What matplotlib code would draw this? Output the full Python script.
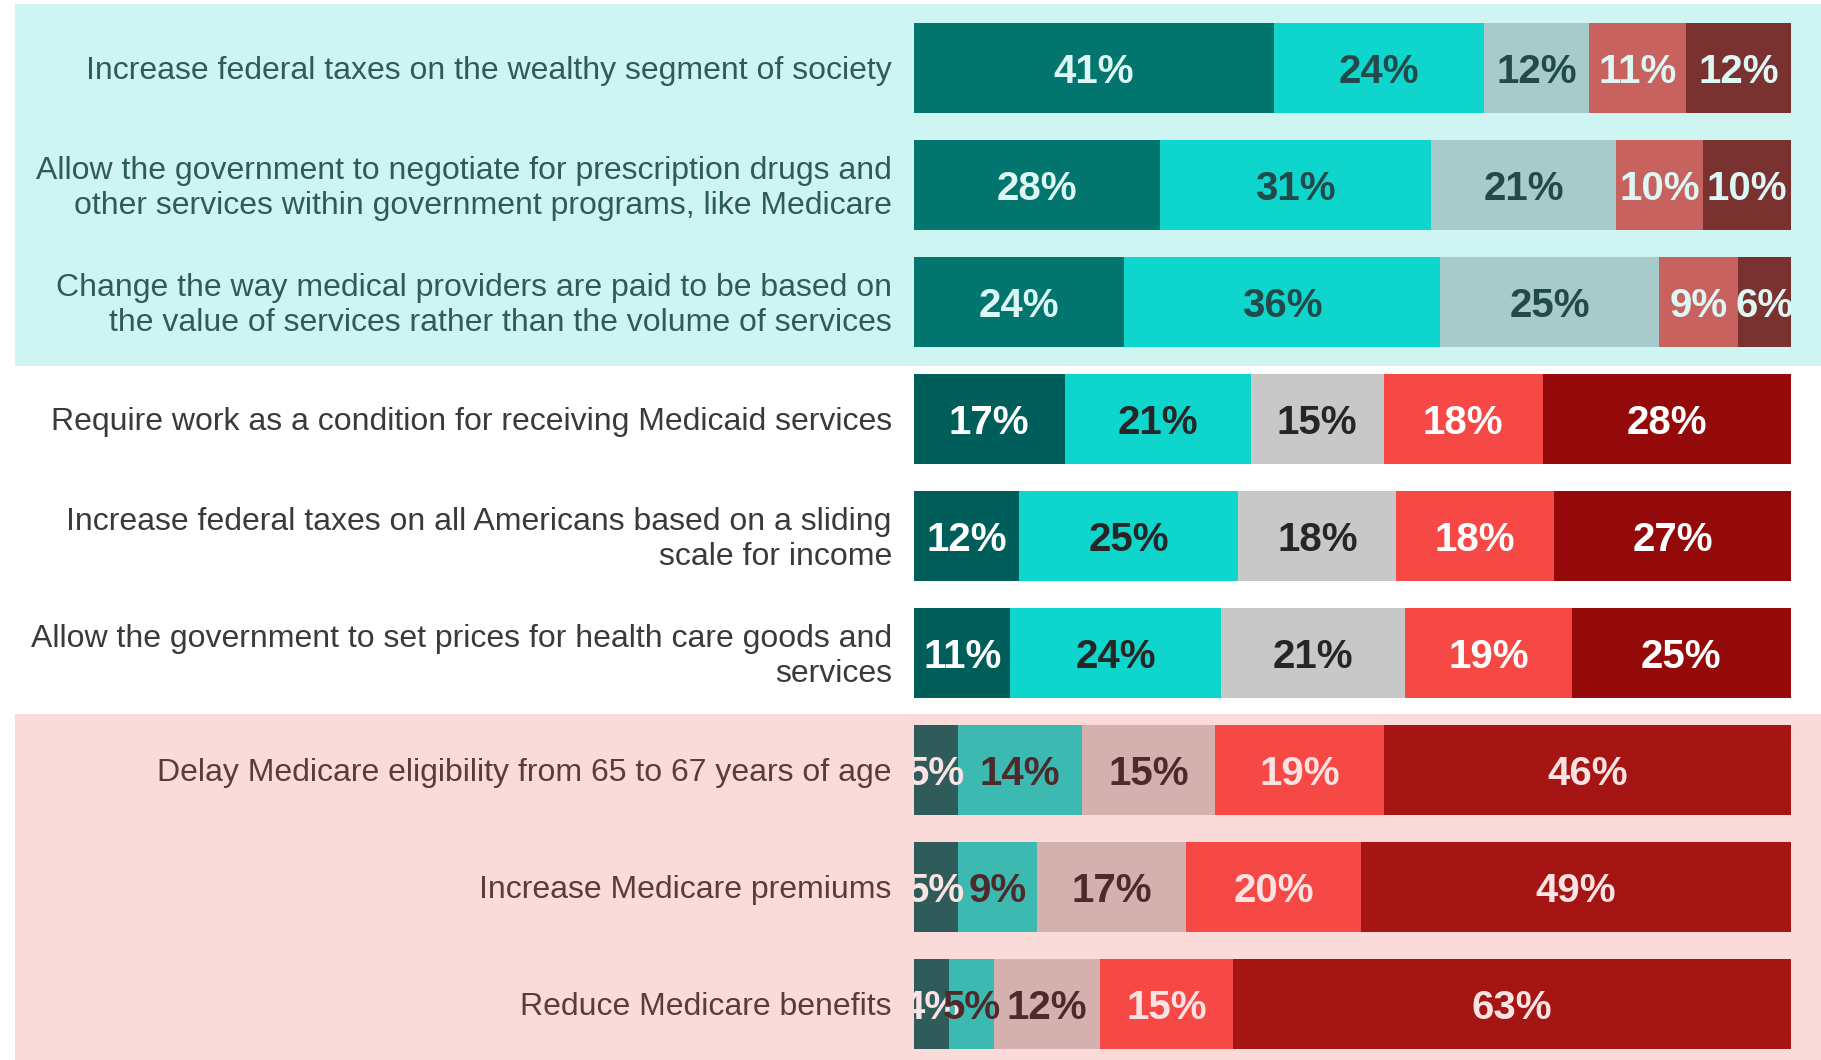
import matplotlib
matplotlib.use("Agg")
import matplotlib.pyplot as plt
from matplotlib.patches import Rectangle
from matplotlib.transforms import blended_transform_factory
import numpy as np

plt.rcParams['font.family'] = ['Liberation Sans', 'DejaVu Sans']

categories = [
    "Increase federal taxes on the wealthy segment of society",
    "Allow the government to negotiate for prescription drugs and\nother services within government programs, like Medicare",
    "Change the way medical providers are paid to be based on\nthe value of services rather than the volume of services",
    "Require work as a condition for receiving Medicaid services",
    "Increase federal taxes on all Americans based on a sliding\nscale for income",
    "Allow the government to set prices for health care goods and\nservices",
    "Delay Medicare eligibility from 65 to 67 years of age",
    "Increase Medicare premiums",
    "Reduce Medicare benefits",
]

strongly_support = [41, 28, 24, 17, 12, 11, 5, 5, 4]
somewhat_support = [24, 31, 36, 21, 25, 24, 14, 9, 5]
neutral = [12, 21, 25, 15, 18, 21, 15, 17, 12]
somewhat_oppose = [11, 10, 9, 18, 18, 19, 19, 20, 15]
strongly_oppose = [12, 10, 6, 28, 27, 25, 46, 49, 63]

# group of each row: 0 = top (supported), 1 = middle, 2 = bottom (opposed)
row_group = [0, 0, 0, 1, 1, 1, 2, 2, 2]

seg_colors = {
    0: ["#03756F", "#0ED6CC", "#A6CBCA", "#C8625E", "#7A3230"],
    1: ["#005E5A", "#0ED6CC", "#C8C8C8", "#F64946", "#940A0A"],
    2: ["#2F5B5A", "#3CB9B1", "#D4B1AF", "#F64946", "#A51513"],
}
val_colors = {
    0: ["#DDF7F5", "#234A4A", "#234A4A", "#DDF7F5", "#DDF7F5"],
    1: ["#FFFFFF", "#262626", "#262626", "#FFFFFF", "#FFFFFF"],
    2: ["#FCE3E3", "#4E2A2A", "#4E2A2A", "#FCE3E3", "#FCE3E3"],
}
label_colors = {0: "#2E5C5A", 1: "#3A3A3A", 2: "#5E3B3B"}

series = np.array([strongly_support, somewhat_support, neutral,
                   somewhat_oppose, strongly_oppose], dtype=float)
totals = series.sum(axis=0)
shares = series / totals * 100

fig = plt.figure(figsize=(18.21, 10.60), dpi=100)
fig.patch.set_facecolor("white")
ax = fig.add_axes([914 / 1821, 0.0, 877 / 1821, 1.0])
ax.set_facecolor("none")

n = len(categories)
y = np.arange(n)
bar_h = 0.769

left = np.zeros(n)
for k in range(5):
    cols = [seg_colors[g][k] for g in row_group]
    ax.barh(y, shares[k], left=left, height=bar_h, color=cols,
            edgecolor="none", linewidth=0, zorder=2)
    for i in range(n):
        ax.text(left[i] + shares[k][i] / 2, y[i], f"{int(series[k][i])}%",
                ha="center", va="center_baseline", fontsize=29,
                fontweight="bold",
                color=val_colors[row_group[i]][k], clip_on=True, zorder=3)
    left += shares[k]

for i, cat in enumerate(categories):
    ax.annotate(cat, xy=(0, y[i]), xycoords=("axes fraction", "data"),
                xytext=(-16, -2.5), textcoords="offset points",
                ha="right", va="center", fontsize=23,
                color=label_colors[row_group[i]], linespacing=1.22,
                annotation_clip=False)

ax.set_xlim(0, 100)
ax.set_ylim(8.479, -0.581)
ax.axis("off")

blend = blended_transform_factory(fig.transFigure, ax.transData)
fig.add_artist(Rectangle((15 / 1821, -0.547), 1, 2.544 + 0.547,
                         transform=blend, facecolor="#CFF5F3",
                         edgecolor="none", zorder=-1))
fig.add_artist(Rectangle((15 / 1821, 5.521), 1, 4.0,
                         transform=blend, facecolor="#FBDADA",
                         edgecolor="none", zorder=-1))

fig.savefig("out.png", dpi=100)
